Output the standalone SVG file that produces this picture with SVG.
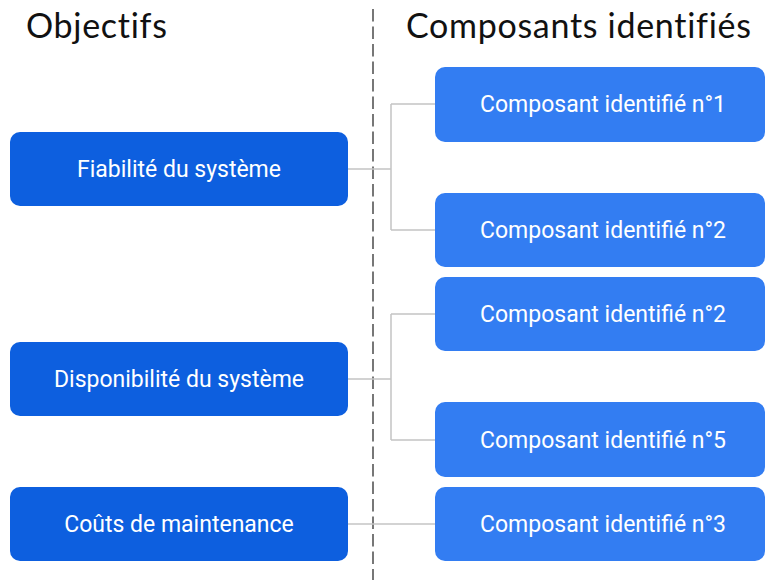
<svg xmlns="http://www.w3.org/2000/svg" width="766" height="583" viewBox="0 0 766 583">
<style>
.title{font-family:"Lato","Noto Sans",sans-serif;font-size:34px;font-weight:400;fill:#111;letter-spacing:0.7px;}
.obj rect{fill:#0d5fdf;}
.comp rect{fill:#337df2;}
.lbl{font-family:Roboto,"Liberation Sans",sans-serif;font-size:23px;fill:#fff;text-anchor:middle;dominant-baseline:central;}
.conn{fill:none;stroke:#c4c4c4;stroke-width:1.5;}
.divider{stroke:#777;stroke-width:2;stroke-dasharray:12.5 5;}
</style>
<rect width="766" height="583" fill="#fff"/>
<text class="title" x="26" y="38">Objectifs</text>
<text class="title" x="406" y="38">Composants identifiés</text>
<line class="divider" x1="373" y1="9" x2="373" y2="580"/>
<g id="connectors">
<path class="conn" d="M348 169H391M391 104V230M391 104H435M391 230H435"/>
<path class="conn" d="M348 379H391M391 314V440M391 314H435M391 440H435"/>
<path class="conn" d="M348 524H435"/>
</g>
<g id="obj1" class="obj"><rect x="10" y="132" width="338" height="74" rx="10"/><text class="lbl" x="179" y="169">Fiabilité du système</text></g>
<g id="obj2" class="obj"><rect x="10" y="342" width="338" height="74" rx="10"/><text class="lbl" x="179" y="379">Disponibilité du système</text></g>
<g id="obj3" class="obj"><rect x="10" y="487" width="338" height="74" rx="10"/><text class="lbl" x="179" y="524">Coûts de maintenance</text></g>
<g id="comp1" class="comp"><rect x="435" y="67" width="330" height="75" rx="10"/><text class="lbl" x="603" y="104">Composant identifié n°1</text></g>
<g id="comp2a" class="comp"><rect x="435" y="193" width="330" height="74" rx="10"/><text class="lbl" x="603" y="230">Composant identifié n°2</text></g>
<g id="comp2b" class="comp"><rect x="435" y="277" width="330" height="74" rx="10"/><text class="lbl" x="603" y="314">Composant identifié n°2</text></g>
<g id="comp5" class="comp"><rect x="435" y="402" width="330" height="75" rx="10"/><text class="lbl" x="603" y="440">Composant identifié n°5</text></g>
<g id="comp3" class="comp"><rect x="435" y="487" width="330" height="74" rx="10"/><text class="lbl" x="603" y="524">Composant identifié n°3</text></g>
</svg>
